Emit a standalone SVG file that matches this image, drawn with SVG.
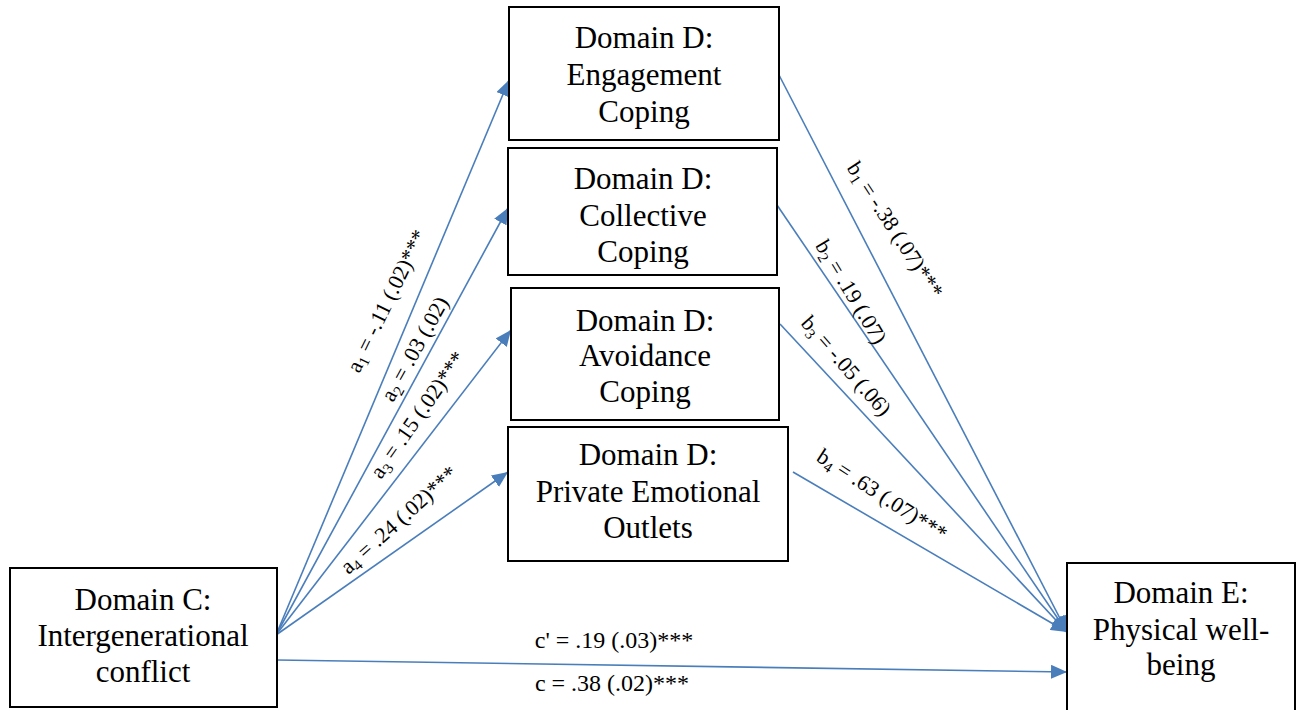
<svg xmlns="http://www.w3.org/2000/svg" width="1296" height="710" viewBox="0 0 1296 710">
<style>
.box{fill:#fff;stroke:#000;stroke-width:2}
.nt{font-family:'Liberation Serif','Times New Roman',serif;font-size:31px;fill:#000;text-anchor:middle}
.lb{font-family:'Liberation Serif','Times New Roman',serif;font-size:22px;fill:#000;text-anchor:middle}
.lc{font-family:'Liberation Serif','Times New Roman',serif;font-size:24px;fill:#000;text-anchor:middle}
.cn{stroke:#4a7ebb;stroke-width:1.6;fill:none;marker-end:url(#ah)}
</style>
<defs>
<marker id="ah" markerUnits="userSpaceOnUse" markerWidth="16" markerHeight="14" viewBox="0 0 16 14" refX="16" refY="7" orient="auto">
<path d="M0,0 L16,7 L0,14 z" fill="#4a7ebb"/>
</marker>
</defs>
<rect width="1296" height="710" fill="#fff"/>
<g id="connectors">
<line class="cn" x1="276" y1="635" x2="509" y2="80"/>
<line class="cn" x1="276" y1="635" x2="508" y2="208"/>
<line class="cn" x1="276" y1="635" x2="511" y2="330"/>
<line class="cn" x1="276" y1="635" x2="508" y2="472"/>
<line class="cn" x1="779" y1="75" x2="1067" y2="632"/>
<line class="cn" x1="777" y1="205" x2="1067" y2="632"/>
<line class="cn" x1="780" y1="324" x2="1067" y2="632"/>
<line class="cn" x1="793" y1="472" x2="1067" y2="632"/>
<line class="cn" x1="277" y1="660" x2="1067" y2="672"/>
<text class="lb" transform="translate(387,301) rotate(-64)" y="7">a<tspan font-size="15" dy="4">1</tspan><tspan dy="-4"> = -.11 (.02)***</tspan></text>
<text class="lb" transform="translate(415,349) rotate(-61)" y="7">a<tspan font-size="15" dy="4">2</tspan><tspan dy="-4"> = .03 (.02)</tspan></text>
<text class="lb" transform="translate(418,415) rotate(-55)" y="7">a<tspan font-size="15" dy="4">3</tspan><tspan dy="-4"> = .15 (.02)***</tspan></text>
<text class="lb" transform="translate(399,520) rotate(-42)" y="7">a<tspan font-size="15" dy="4">4</tspan><tspan dy="-4"> = .24 (.02)***</tspan></text>
<text class="lb" transform="translate(895,230) rotate(57)" y="7">b<tspan font-size="15" dy="4">1</tspan><tspan dy="-4"> = -.38 (.07)***</tspan></text>
<text class="lb" transform="translate(851,292) rotate(59)" y="7">b<tspan font-size="15" dy="4">2</tspan><tspan dy="-4"> = .19 (.07)</tspan></text>
<text class="lb" transform="translate(846,366) rotate(49)" y="7">b<tspan font-size="15" dy="4">3</tspan><tspan dy="-4"> = -.05 (.06)</tspan></text>
<text class="lb" transform="translate(882,495) rotate(33)" y="7">b<tspan font-size="15" dy="4">4</tspan><tspan dy="-4"> = .63 (.07)***</tspan></text>
<text class="lc" x="614" y="648">c' = .19 (.03)***</text>
<text class="lc" x="612" y="691">c = .38 (.02)***</text>
</g>
<g id="engagement">
<rect class="box" x="509" y="7" width="270" height="133"/>
<text class="nt" x="644" y="48">Domain D:</text>
<text class="nt" x="644" y="85">Engagement</text>
<text class="nt" x="644" y="122">Coping</text>
</g>
<g id="collective">
<rect class="box" x="508" y="148" width="269" height="127"/>
<text class="nt" x="643" y="189">Domain D:</text>
<text class="nt" x="643" y="226">Collective</text>
<text class="nt" x="643" y="262">Coping</text>
</g>
<g id="avoidance">
<rect class="box" x="511" y="288" width="268" height="132"/>
<text class="nt" x="645" y="331">Domain D:</text>
<text class="nt" x="645" y="366">Avoidance</text>
<text class="nt" x="645" y="402">Coping</text>
</g>
<g id="private">
<rect class="box" x="508" y="427" width="280" height="134"/>
<text class="nt" x="648" y="465">Domain D:</text>
<text class="nt" x="648" y="502">Private Emotional</text>
<text class="nt" x="648" y="538">Outlets</text>
</g>
<g id="conflict">
<rect class="box" x="10" y="568" width="267" height="139"/>
<text class="nt" x="143" y="610">Domain C:</text>
<text class="nt" x="143" y="646">Intergenerational</text>
<text class="nt" x="143" y="682">conflict</text>
</g>
<g id="wellbeing">
<rect class="box" x="1067" y="563" width="228" height="152"/>
<text class="nt" x="1181" y="603">Domain E:</text>
<text class="nt" x="1181" y="640">Physical well-</text>
<text class="nt" x="1181" y="675">being</text>
</g>
</svg>
